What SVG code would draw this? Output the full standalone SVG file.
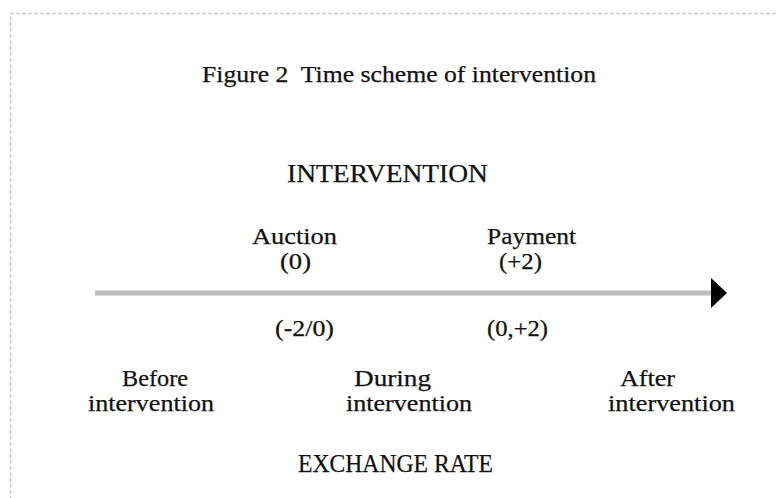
<svg xmlns="http://www.w3.org/2000/svg" width="776" height="498" viewBox="0 0 776 498">
<style>
text{font-family:"Liberation Serif","Times New Roman",serif;fill:#111;stroke:#111;stroke-width:0.25px;}
.t{font-size:23px;}
.c{font-size:26px;}
.l{font-size:24px;}
</style>
<defs>
<marker id="ah" markerUnits="userSpaceOnUse" markerWidth="18" markerHeight="32" refX="0" refY="15" orient="auto">
<path d="M0,0 L16,15 L0,30 Z" fill="#000"/>
</marker>
</defs>
<rect x="10.5" y="13.5" width="800" height="520" fill="none" stroke="#bdbdbd" stroke-width="1.5" stroke-dasharray="3,3"/>
<g id="title"><text class="t" x="202" y="82" textLength="394" lengthAdjust="spacingAndGlyphs">Figure 2&#160; Time scheme of intervention</text></g>
<g id="intervention"><text class="c" x="287" y="182" textLength="201" lengthAdjust="spacingAndGlyphs">INTERVENTION</text></g>
<g id="connectors"><line x1="95" y1="293" x2="711" y2="293" stroke="#bcbcbc" stroke-width="5" marker-end="url(#ah)"/></g>
<g id="auction"><text class="l" x="252" y="244" textLength="85" lengthAdjust="spacingAndGlyphs">Auction</text><text class="l" x="280" y="269" textLength="31" lengthAdjust="spacingAndGlyphs">(0)</text></g>
<g id="payment"><text class="l" x="487" y="244" textLength="89" lengthAdjust="spacingAndGlyphs">Payment</text><text class="l" x="499" y="269" textLength="43" lengthAdjust="spacingAndGlyphs">(+2)</text></g>
<g id="range1"><text class="l" x="275" y="336" textLength="59" lengthAdjust="spacingAndGlyphs">(-2/0)</text></g>
<g id="range2"><text class="l" x="487" y="336" textLength="61" lengthAdjust="spacingAndGlyphs">(0,+2)</text></g>
<g id="before"><text class="l" x="122" y="386" textLength="66" lengthAdjust="spacingAndGlyphs">Before</text><text class="l" x="88" y="411" textLength="126" lengthAdjust="spacingAndGlyphs">intervention</text></g>
<g id="during"><text class="l" x="354" y="386" textLength="77" lengthAdjust="spacingAndGlyphs">During</text><text class="l" x="346" y="411" textLength="126" lengthAdjust="spacingAndGlyphs">intervention</text></g>
<g id="after"><text class="l" x="620" y="386" textLength="55" lengthAdjust="spacingAndGlyphs">After</text><text class="l" x="608" y="411" textLength="127" lengthAdjust="spacingAndGlyphs">intervention</text></g>
<g id="exchange"><text class="c" x="298" y="472" textLength="195" lengthAdjust="spacingAndGlyphs">EXCHANGE RATE</text></g>
</svg>
